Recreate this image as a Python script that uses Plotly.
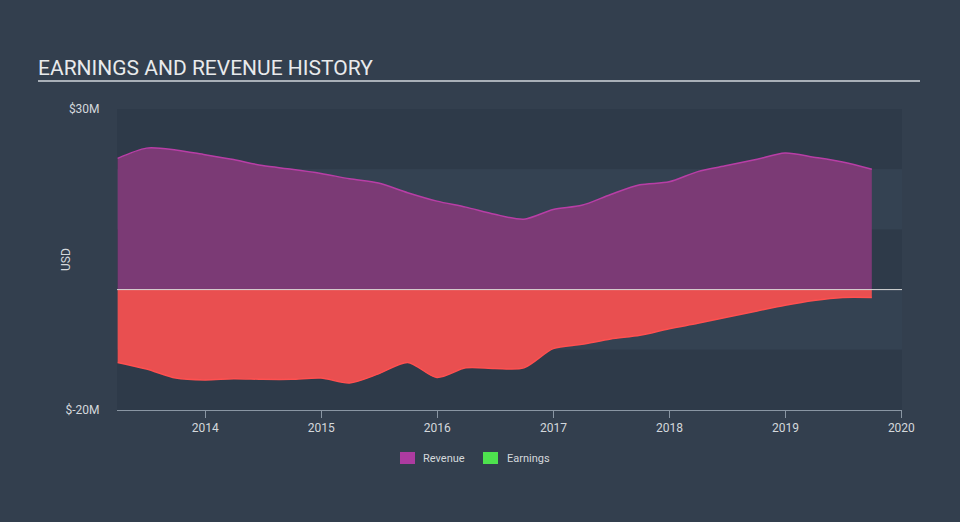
import plotly.graph_objects as go

dates = ["2013-03-31", "2013-06-30", "2013-09-30", "2013-12-31",
         "2014-03-31", "2014-06-30", "2014-09-30", "2014-12-31",
         "2015-03-31", "2015-06-30", "2015-09-30", "2015-12-31",
         "2016-03-31", "2016-06-30", "2016-09-30", "2016-12-31",
         "2017-03-31", "2017-06-30", "2017-09-30", "2017-12-31",
         "2018-03-31", "2018-06-30", "2018-09-30", "2018-12-31",
         "2019-03-31", "2019-06-30", "2019-09-30"]
revenue = [21.8, 23.5, 23.2, 22.4, 21.6, 20.6, 20.0, 19.3,
           18.4, 17.7, 16.1, 14.7, 13.7, 12.5, 11.7, 13.3,
           14.0, 15.8, 17.4, 17.9, 19.6, 20.6, 21.6, 22.7,
           22.0, 21.2, 20.0]
earnings = [-12.1, -13.2, -14.7, -15.0, -14.8, -14.9, -14.9, -14.7,
            -15.5, -14.0, -12.1, -14.6, -13.0, -13.1, -13.0, -9.8,
            -9.1, -8.2, -7.6, -6.5, -5.6, -4.6, -3.6, -2.6,
            -1.8, -1.3, -1.3]
year_ticks = ["2014-01-01", "2015-01-01", "2016-01-01", "2017-01-01",
              "2018-01-01", "2019-01-01", "2020-01-01"]
year_labels = ["2014", "2015", "2016", "2017", "2018", "2019", "2020"]
y_ticks = [30, -20]
y_labels = ["$30M", "$-20M"]
legend_names = ["Revenue", "Earnings"]
legend_colors = ["#ad3ba0", "#4ee24e"]

BG = "#333f4e"
DARK = "#2e3a49"
LIGHT = "#344252"

fig = go.Figure()

fig.add_trace(go.Scatter(
    x=dates, y=revenue, mode="lines", fill="tozeroy",
    line=dict(color="#b83ea6", width=1.5, shape="spline", smoothing=0.8),
    fillcolor="#7b3a75", showlegend=False, hoverinfo="skip"))
fig.add_trace(go.Scatter(
    x=dates, y=earnings, mode="lines", fill="tozeroy",
    line=dict(color="#ff5050", width=1.5, shape="spline", smoothing=0.8),
    fillcolor="#e94f50", showlegend=False, hoverinfo="skip"))


def px_x(px):
    return (px - 117) / 785


def px_y(py):
    return (410 - py) / 301


shapes = []
bands = [(20, 30, DARK), (10, 20, LIGHT), (0, 10, DARK), (-10, 0, LIGHT), (-20, -10, DARK)]
for lo, hi, c in bands:
    shapes.append(dict(type="rect", xref="paper", yref="y", x0=0, x1=1, y0=lo, y1=hi,
                       fillcolor=c, line=dict(width=0), layer="below"))
shapes.append(dict(type="line", xref="paper", yref="y", x0=0, x1=1, y0=0, y1=0,
                   line=dict(color="#d9d9d9", width=1), layer="above"))
shapes.append(dict(type="line", xref="paper", yref="paper", x0=px_x(38), x1=px_x(920),
                   y0=px_y(81), y1=px_y(81), line=dict(color="#a9b0b8", width=2)))

annotations = [dict(text="USD", xref="paper", yref="paper", x=px_x(66), y=px_y(260),
                    textangle=-90, showarrow=False, xanchor="center", yanchor="middle",
                    font=dict(size=12, color="#d4d8dc"))]

# manual legend
leg_sq = [(400, 415), (483, 498)]
leg_tx = [421, 505]
for (a, b), tx, name, col in zip(leg_sq, leg_tx, legend_names, legend_colors):
    shapes.append(dict(type="rect", xref="paper", yref="paper", x0=px_x(a), x1=px_x(b),
                       y0=px_y(464), y1=px_y(452), fillcolor=col, line=dict(width=0)))
    annotations.append(dict(text=name, xref="paper", yref="paper", x=px_x(tx), y=px_y(458),
                            showarrow=False, xanchor="left", yanchor="middle",
                            font=dict(size=11, color="#d4d8dc")))

fig.update_layout(
    width=960, height=522,
    paper_bgcolor=BG, plot_bgcolor=BG,
    margin=dict(l=117, r=58, t=109, b=112),
    font=dict(family="Roboto", color="#d4d8dc", size=12),
    title=dict(text="EARNINGS AND REVENUE HISTORY", x=38/960, xanchor="left",
               xref="container", yref="container", y=1-68/522, yanchor="middle",
               font=dict(size=21, color="#e8eaec", family="Roboto")),
    shapes=shapes,
    annotations=annotations,
    showlegend=False,
    xaxis=dict(type="date", range=["2013-03-29", "2020-01-03"],
               tickvals=year_ticks, ticktext=year_labels,
               showgrid=False, zeroline=False,
               showline=True, linecolor="#8a96a3", linewidth=1,
               ticks="outside", ticklen=7, tickcolor="#8a96a3",
               tickfont=dict(size=12, color="#d4d8dc")),
    yaxis=dict(range=[-20, 30], tickvals=y_ticks, ticktext=y_labels,
               showgrid=False, zeroline=False, showline=False,
               ticks="outside", ticklen=14, tickcolor="rgba(0,0,0,0)",
               tickfont=dict(size=12, color="#d4d8dc")),
)

fig.write_html("out.html")
